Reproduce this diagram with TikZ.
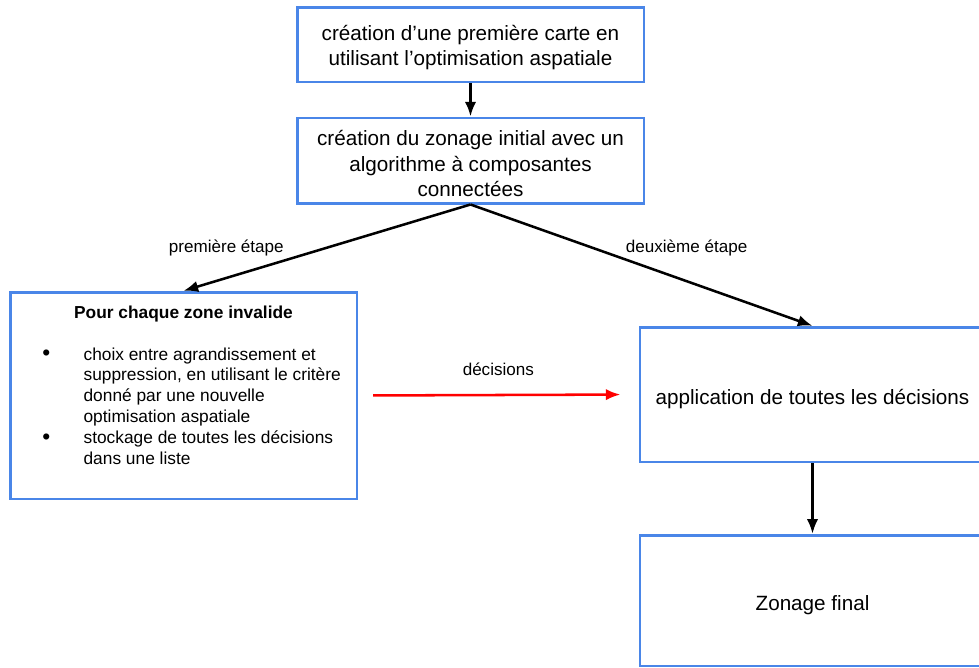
\documentclass[tikz,border=0pt]{standalone}
\usepackage{fontspec}
\setmainfont{Liberation Sans}
\usetikzlibrary{arrows.meta}
\definecolor{boxblue}{HTML}{4A86E8}
\tikzstyle{boxes} = [rectangle, draw=boxblue, line width=2pt, align=center, font=\fontsize{15.5}{19.2}\selectfont]
\tikzstyle{arrow} = [line width=1.9pt, ->, >={Latex[length=11pt,width=8.5pt]}]
\tikzstyle{labels} = [font=\fontsize{12.8}{15.5}\selectfont, inner sep=0pt, text=black]
\newcommand{\puce}{\raisebox{-0.6pt}{\fontsize{17}{15.6}\selectfont\textbullet}}
\begin{document}
\begin{tikzpicture}[x=0.75pt, y=-0.75pt]
            \useasboundingbox (0,0) rectangle (979,668);
            % Draw Boxes
            \node(carte) [boxes, minimum width=260pt, minimum height=56pt] at (470.5,44.5)
                {\rule{0pt}{16pt}création d’une première carte en\\utilisant l’optimisation aspatiale};
            \node(zonage) [boxes, minimum width=260pt, minimum height=64pt] at (470.5,160.5)
                {\rule{0pt}{16pt}création du zonage initial avec un\\algorithme à composantes\\connectées};
            \node(regles) [boxes, minimum width=260pt, minimum height=155pt] at (183.5,395.5) {};
            \node(appli) [boxes, minimum width=259pt, minimum height=101pt, text height=18pt, text depth=3.3pt] at (812.5,394.5)
                {application de toutes les décisions};
            \node(final) [boxes, minimum width=259pt, minimum height=98pt, text height=18pt, text depth=3.3pt] at (812.5,600.5)
                {Zonage final};

            % Text of the left box
            \node(titre) [labels, font=\fontsize{13}{15.5}\selectfont\bfseries, anchor=base] at (183.5,318)
                {Pour chaque zone invalide};
            \node(liste) [labels, font=\fontsize{13}{15.6}\selectfont, anchor=base west] at (42,360)
                {\begin{tabular}[t]{@{}p{31pt}@{}l@{}}
                 \puce & choix entre agrandissement et\\
                       & suppression, en utilisant le critère\\
                       & donné par une nouvelle\\
                       & optimisation aspatiale\\
                 \puce & stockage de toutes les décisions\\
                       & dans une liste
                 \end{tabular}};

            % Draw Arrows
            \draw[arrow] (carte.south) -- (zonage);
            \draw[arrow] (zonage.south) -- (regles.north)
                node[labels, midway, xshift=-75.5pt] (etape1) {première étape};
            \draw[arrow] (zonage.south) -- (appli.north)
                node[labels, pos=0.355, xshift=71pt] (etape2) {deuxième étape};
            \draw[arrow, red, shorten <=11.25pt, shorten >=13.5pt] (regles.east) -- (appli.west)
                node[labels, midway, yshift=19.5pt] (decis) {décisions};
            \draw[arrow] (appli) -- (final);
        \end{tikzpicture}
\end{document}
